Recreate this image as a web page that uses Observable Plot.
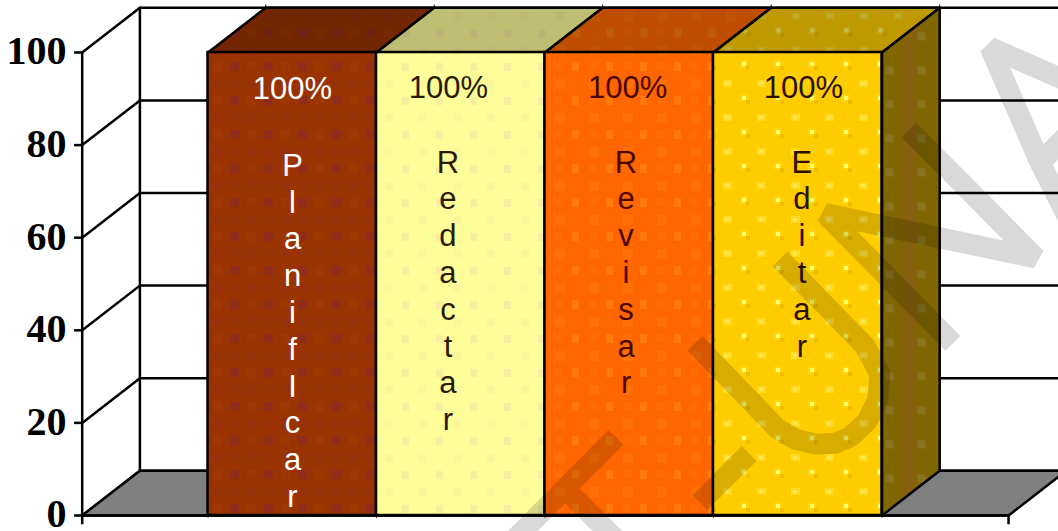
<!DOCTYPE html>
<html>
<head>
<meta charset="utf-8">
<script src="https://cdn.jsdelivr.net/npm/d3@7"></script>
<script src="https://cdn.jsdelivr.net/npm/@observablehq/plot@0.6"></script>
<style>
  html, body { margin: 0; padding: 0; background: #fff; overflow: hidden; }
  svg { display: block; }
</style>
</head>
<body>
<div id="chart"></div>
<script>
// Writing-process stages, each shown at its full share
const categories = ["PlanifIcar", "Redactar", "Revisar", "Editar"];
const values = [100, 100, 100, 100];
const yTicks = [0, 20, 40, 60, 80, 100];
const percentX = [0.5015, 1.427, 2.49, 3.534];
const percentY = [94.8, 95.0, 95.0, 95.0];
const nameX = [0.5015, 1.424, 2.481, 3.525];
const nameY = [79.0, 79.7, 79.7, 79.7];
const textColors = ["#ffffff", "#2b1a00", "#4d0500", "#2b1000"];

// Extents of the pseudo-3D box, in axis units
const axisStart = -0.7466;
const axisEnd = 4.751;
const depthX = 0.3424;
const depthY = 9.65;

// Diagonal stamp strokes crossing the chart; each path is one letter form
const stampStrokes = [
  [[2.421, 16.9], [2.119, 5.8], [2.682, -14.7], [2.119, 5.8], [1.614, -12.6]],
  [[3.211, 13.4], [2.92, 2.8]],
  [[2.89, 37.2], [3.377, 18.8], [3.49, 16.4], [3.614, 15.4], [3.72, 15.6], [3.81, 16.9], [3.911, 20.3], [3.975, 25.0], [3.988, 30.5], [3.899, 36.6], [3.395, 55.4]],
  [[4.421, 37.2], [3.662, 65.2], [4.914, 55.6], [4.16, 83.3]],
  [[5.175, 59.3], [4.938, 76.2], [5.145, 83.8], [4.938, 76.2], [4.641, 101.1], [5.294, 90.7]]
];

const stampRows = stampStrokes.flatMap((pts, k) => pts.map(([x, y]) => ({x, y, k})));
const shape = pts => pts.map(([x, y]) => ({x, y}));
const line = {stroke: "#000", strokeWidth: 2.5};

const floorRows = shape([[axisStart, 0], [axisEnd, 0], [axisEnd + depthX, depthY], [axisStart + depthX, depthY]]);
const barRows = categories.map((name, i) => ({name, i, value: values[i]}));

// Pattern fills per bar
const textures = [
  {id: "t0", x: 230, y: 62, w: 34, h: 34, base: "#9a3300", cells: [[0, 0, 9, 9, "#902d1a"], [17, 17, 9, 9, "#96310c"], [17, 0, 9, 9, "#9e3702"], [0, 17, 9, 9, "#973208"]]},
  {id: "t1", x: 402, y: 63, w: 34, h: 34, base: "#fdfe99", cells: [[0, 0, 7, 8, "#f8eea0"], [17, 17, 8, 8, "#faf79b"]]},
  {id: "t2", x: 572, y: 62, w: 34, h: 34, base: "#ff6600", cells: [[0, 0, 7, 9, "#ff7a0b"], [17, 17, 10, 10, "#ff7008"], [17, 0, 8, 8, "#ff6b04"]]},
  {id: "t3", x: 740, y: 60, w: 34, h: 34, base: "#ffcc00", cells: [[0, 0, 8, 8, "#ffd512"], [2, 2, 4, 4, "#ffff66"], [6, 6, 4, 4, "#ecbd00"], [17, 20, 9, 7, "#ffdb26"], [19, 22, 4, 3, "#ffe655"]]}
];
const sideTexture = {id: "side", x: 882, y: 60, w: 58, h: 34, base: "#806600", cells: [[20, 0, 14, 34, "#86600e"], [3, 6, 8, 8, "#887420"], [35, 6, 8, 8, "#887420"]]};

const chart = Plot.plot({
  width: 1058,
  height: 531,
  margin: 0,
  x: {axis: null, domain: [-1.2315, 5.0475], range: [0, 1058]},
  y: {axis: null, domain: [0, 100], range: [515, 52]},
  marks: [
    // back wall grid, left wall and floor
    Plot.ruleY(yTicks, {x1: axisStart + depthX, x2: 5.2, y: d => d + depthY, ...line}),
    yTicks.map(t => Plot.line(shape([[axisStart, t], [axisStart + depthX, t + depthY]]), {x: "x", y: "y", ...line})),
    Plot.line(floorRows, {x: "x", y: "y", fill: "#808080", curve: "linear-closed", ...line}),
    Plot.ruleX([axisStart], {y1: -2, y2: 100, ...line}),
    Plot.ruleX([axisStart + depthX], {y1: depthY, y2: 100 + depthY, ...line}),
    Plot.ruleY(yTicks, {x1: axisStart - 0.045, x2: axisStart, y: d => d, ...line}),
    Plot.ruleX([axisEnd], {y1: -2, y2: 0, ...line}),
    Plot.ruleY([0], {x1: axisStart, x2: axisEnd, ...line}),

    // bar faces
    barRows.map(d => Plot.line(
      shape([[d.i, d.value], [d.i + 1, d.value], [d.i + 1 + depthX, d.value + depthY], [d.i + depthX, d.value + depthY]]),
      {x: "x", y: "y", fill: `url(#t${d.i}top)`, curve: "linear-closed", ...line}
    )),
    Plot.line(
      shape([[4, 0], [4 + depthX, depthY], [4 + depthX, 100 + depthY], [4, 100]]),
      {x: "x", y: "y", fill: "url(#side)", curve: "linear-closed", ...line}
    ),
    barRows.map(d => Plot.rect([d], {
      x1: d => d.i, x2: d => d.i + 1, y1: 0, y2: "value",
      fill: `url(#t${d.i})`, inset: 0, ...line
    })),
    Plot.ruleX([0, 1, 2, 3, 4], {y1: -0.6, y2: 0, stroke: "#000", strokeWidth: 1}),
    Plot.ruleX([0, 1, 2, 3, 4], {x: d => d + depthX, y1: 100 + depthY, y2: 100.6 + depthY, stroke: "#000", strokeWidth: 1}),

    // labels inside the bars
    barRows.map(d => Plot.text([d], {
      x: () => percentX[d.i], y: () => percentY[d.i], text: d => `${d.value}%`,
      lineAnchor: "top", fontFamily: "Liberation Sans", fontSize: 31, fill: textColors[d.i]
    })),
    barRows.map(d => Plot.text([d], {
      x: () => nameX[d.i], y: () => nameY[d.i], text: d => d.name.split("").join("\n"),
      lineAnchor: "top", lineHeight: 36.8 / 31, fontFamily: "Liberation Sans", fontSize: 31, fill: textColors[d.i]
    })),

    // value axis labels
    Plot.text(yTicks, {
      x: () => -0.84, y: d => d, dy: -1, text: d => `${d}`,
      textAnchor: "end", lineAnchor: "middle",
      fontFamily: "Liberation Serif", fontWeight: "bold", fontSize: 40, fill: "#000"
    }),

    // translucent stamp on top of everything
    Plot.line(stampRows, {
      x: "x", y: "y", z: "k", stroke: "#000", strokeOpacity: 0.15, strokeWidth: 21,
      strokeLinejoin: "bevel", strokeLinecap: "butt"
    })
  ].flat()
});

// Register the textures: each front fill, plus a darker copy for the top faces
const defs = d3.select(chart).insert("defs", ":first-child");
function addTexture(t, id, shade) {
  const tint = c => {
    const rgb = d3.rgb(c);
    return d3.rgb(rgb.r * shade, rgb.g * shade, rgb.b * shade).formatHex();
  };
  const p = defs.append("pattern")
    .attr("id", id)
    .attr("patternUnits", "userSpaceOnUse")
    .attr("x", t.x).attr("y", t.y)
    .attr("width", t.w).attr("height", t.h);
  p.append("rect").attr("width", t.w).attr("height", t.h).attr("fill", tint(t.base));
  for (const [x, y, w, h, c] of t.cells) {
    p.append("rect").attr("x", x).attr("y", y).attr("width", w).attr("height", h).attr("fill", tint(c));
  }
}
textures.forEach(t => {
  addTexture(t, t.id, 1);
  addTexture(t, `${t.id}top`, 0.75);
});
addTexture(sideTexture, sideTexture.id, 1);

document.getElementById("chart").append(chart);
</script>
</body>
</html>
